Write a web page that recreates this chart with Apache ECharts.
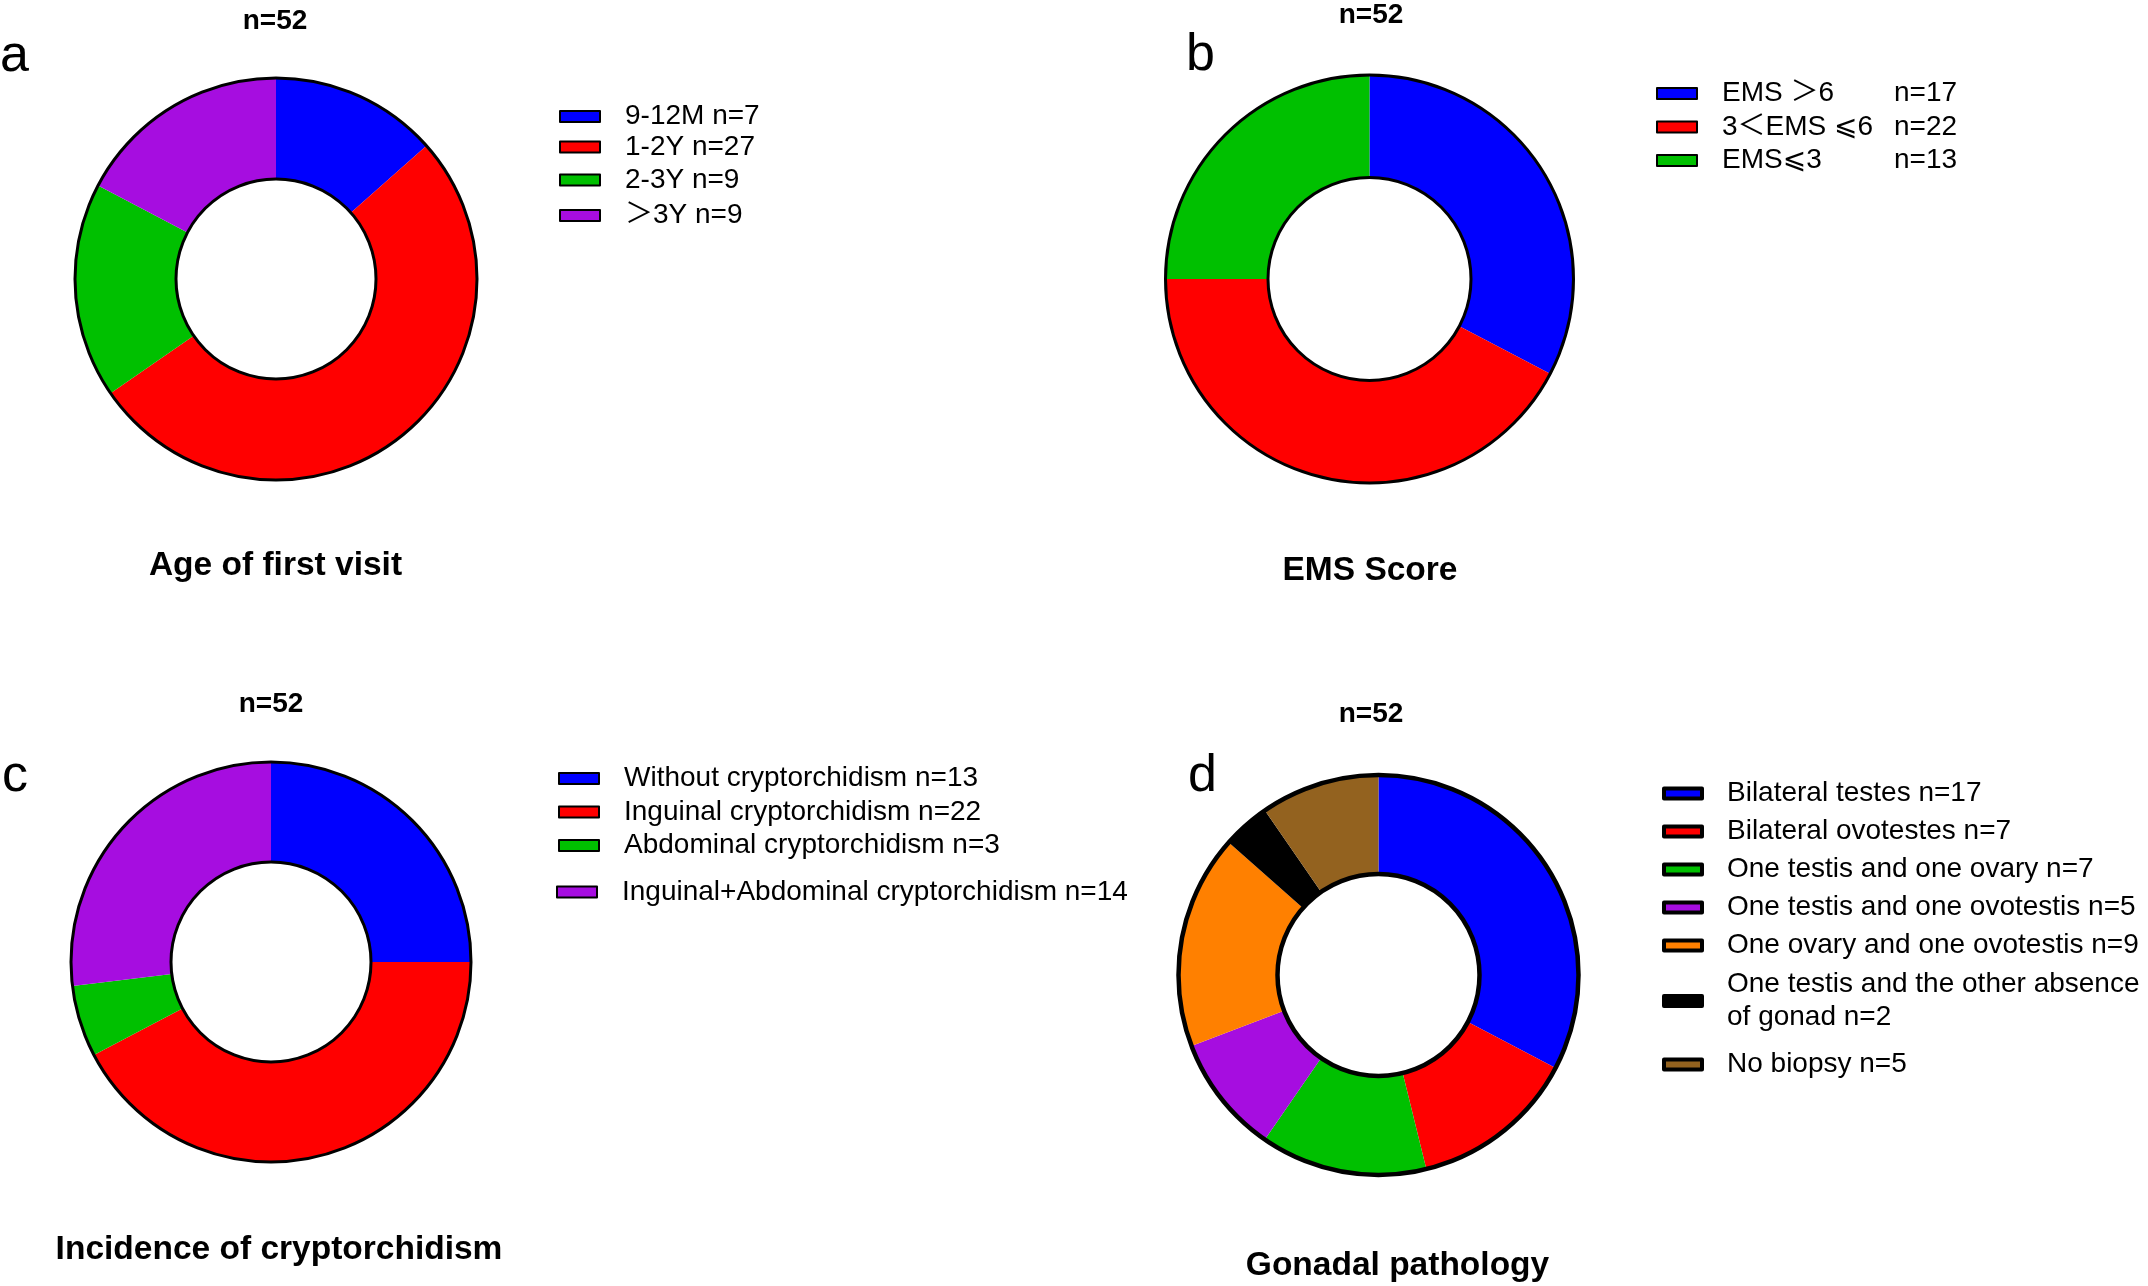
<!DOCTYPE html>
<html>
<head>
<meta charset="utf-8">
<script src="https://cdn.jsdelivr.net/npm/echarts@6/dist/echarts.min.js"></script>
<style>
html,body{margin:0;padding:0;background:#fff;}
#chart{width:2148px;height:1286px;}
</style>
</head>
<body>
<div id="chart"></div>
<script>
// ---------- data ----------
const ageCats = ['9-12M', '1-2Y', '2-3Y', '＞3Y'];
const ageVals = [7, 27, 9, 9];
const emsCats = ['EMS ＞6', '3＜EMS ⩽6', 'EMS⩽3'];
const emsVals = [17, 22, 13];
const cryptCats = ['Without cryptorchidism', 'Inguinal cryptorchidism', 'Abdominal cryptorchidism', 'Inguinal+Abdominal cryptorchidism'];
const cryptVals = [13, 22, 3, 14];
const gonadCats = ['Bilateral testes', 'Bilateral ovotestes', 'One testis and one ovary', 'One testis and one ovotestis', 'One ovary and one ovotestis', 'One testis and the other absence\nof gonad', 'No biopsy'];
const gonadVals = [17, 7, 7, 5, 9, 2, 5];
const panelLetters = ['a', 'b', 'c', 'd'];
const panelTitles = ['Age of first visit', 'EMS Score', 'Incidence of cryptorchidism', 'Gonadal pathology'];

// ---------- styles ----------
const FONT = '"Liberation Sans", Arial, Helvetica, "DejaVu Sans", "Noto Sans CJK SC", sans-serif';
const BLUE = '#0000ff', RED = '#ff0000', GREEN = '#00c000', PURPLE = '#a60de0', ORANGE = '#ff8000', BLACK = '#000000', BROWN = '#93621f';
const colorsA = [BLUE, RED, GREEN, PURPLE];
const colorsB = [BLUE, RED, GREEN];
const colorsC = [BLUE, RED, GREEN, PURPLE];
const colorsD = [BLUE, RED, GREEN, PURPLE, ORANGE, BLACK, BROWN];
const LFS = 28;

const sum = a => a.reduce((s, v) => s + v, 0);

function pieSeries(cats, vals, colors, center, radius, ringWidth, key) {
  const common = {
    type: 'pie', center: center, radius: radius, startAngle: 90, clockwise: true,
    label: {show: false}, labelLine: {show: false}, emphasis: {disabled: true},
    silent: true, animation: false, avoidLabelOverlap: false
  };
  return [
    Object.assign({}, common, {
      name: key,
      itemStyle: {borderWidth: 0},
      data: cats.map((c, i) => ({name: c, value: vals[i], itemStyle: {color: colors[i]}}))
    }),
    Object.assign({}, common, {
      name: key + '-ring', z: 5,
      itemStyle: {color: 'rgba(0,0,0,0)', borderColor: '#000', borderWidth: ringWidth},
      data: [{name: key + '-ring', value: sum(vals)}]
    })
  ];
}

function lookupOf(cats, vals) { const o = {}; cats.forEach((c, i) => o[c] = vals[i]); return o; }
const lkA = lookupOf(ageCats, ageVals), lkB = lookupOf(emsCats, emsVals), lkC = lookupOf(cryptCats, cryptVals), lkD = lookupOf(gonadCats, gonadVals);

function legend(names, lookup, opt, lh) {
  lh = lh || 28;
  const tok = {fontSize: LFS, fontFamily: FONT, color: '#000', lineHeight: lh};
  return Object.assign({
    orient: 'vertical', padding: 0, icon: 'rect', selectedMode: false,
    itemWidth: 40, itemHeight: 11,
    itemStyle: {borderColor: '#000', borderWidth: 2},
    textStyle: {fontSize: LFS, fontFamily: FONT, color: '#000', lineHeight: lh, padding: [0, 0, 0, 20],
      rich: {t: tok}},
    data: names,
    formatter: name => name.split('\n').map((s, i, arr) => '{t|' + s + (i === arr.length - 1 ? ' n=' + lookup[name] : '') + '}').join('\n')
  }, opt);
}

const totals = [ageVals, emsVals, cryptVals, gonadVals].map(v => 'n=' + sum(v));

function txt(text, x, y, size, bold, align) {
  return {type: 'text', x: x, y: y, silent: true,
    style: {text: text, fontSize: size, fontWeight: bold ? 'bold' : 'normal', fontFamily: FONT, fill: '#000',
      align: align || 'center', verticalAlign: 'middle'}};
}

const dBox = {itemWidth: 38, itemHeight: 10, itemStyle: {borderColor: '#000', borderWidth: 4}};

const option = {
  backgroundColor: '#fff',
  animation: false,
  series: [].concat(
    pieSeries(ageCats, ageVals, colorsA, [276, 279], [100, 201], 3, 'a'),
    pieSeries(emsCats, emsVals, colorsB, [1369.5, 279], [101.5, 204], 3, 'b'),
    pieSeries(cryptCats, cryptVals, colorsC, [271, 962], [100, 200], 3, 'c'),
    pieSeries(gonadCats, gonadVals, colorsD, [1378.5, 975], [101, 200], 4.5, 'd')
  ),
  legend: [
    legend([ageCats[0]], lkA, {left: 559, top: 102.5}),
    legend([ageCats[1]], lkA, {left: 559, top: 133}),
    legend([ageCats[2]], lkA, {left: 559, top: 166}),
    legend([ageCats[3]], lkA, {left: 559, top: 201.5}),
    legend(emsCats, lkB, {left: 1656, top: 79.5, itemGap: 5.5,
      formatter: name => '{a|' + name + '}{b|n=' + lkB[name] + '}',
      textStyle: {fontSize: LFS, fontFamily: FONT, color: '#000', lineHeight: 28, padding: [0, 0, 0, 20],
        rich: {a: {width: 172, fontSize: LFS, fontFamily: FONT, color: '#000', lineHeight: 28},
               b: {fontSize: LFS, fontFamily: FONT, color: '#000', lineHeight: 28}}}}),
    legend(cryptCats.slice(0, 3), lkC, {left: 558, top: 764.5, itemGap: 5.5}),
    legend(cryptCats.slice(3), lkC, {left: 556, top: 878}),
    legend(gonadCats.slice(0, 5), lkD, Object.assign({left: 1662, top: 779.5, itemGap: 10}, dBox)),
    legend(gonadCats.slice(5, 6), lkD, Object.assign({left: 1662, top: 968}, dBox), 33),
    legend(gonadCats.slice(6), lkD, Object.assign({left: 1662, top: 1050.5}, dBox))
  ],
  graphic: [
    txt(totals[0], 275, 21, 28, true),
    txt(totals[1], 1371, 15.5, 28, true),
    txt(totals[2], 271, 704.5, 28, true),
    txt(totals[3], 1371, 714.5, 28, true),
    txt(panelLetters[0], 0, 57, 52, false, 'left'),
    txt(panelLetters[1], 1186, 56, 52, false, 'left'),
    txt(panelLetters[2], 2, 777, 52, false, 'left'),
    txt(panelLetters[3], 1188, 777, 52, false, 'left'),
    txt(panelTitles[0], 275.5, 565.5, 33.5, true),
    txt(panelTitles[1], 1370, 570.5, 33.5, true),
    txt(panelTitles[2], 279, 1249.5, 33.5, true),
    txt(panelTitles[3], 1397.5, 1266, 33.5, true)
  ]
};

const chart = echarts.init(document.getElementById('chart'), null, {renderer: 'canvas'});
chart.setOption(option);
</script>
</body>
</html>
